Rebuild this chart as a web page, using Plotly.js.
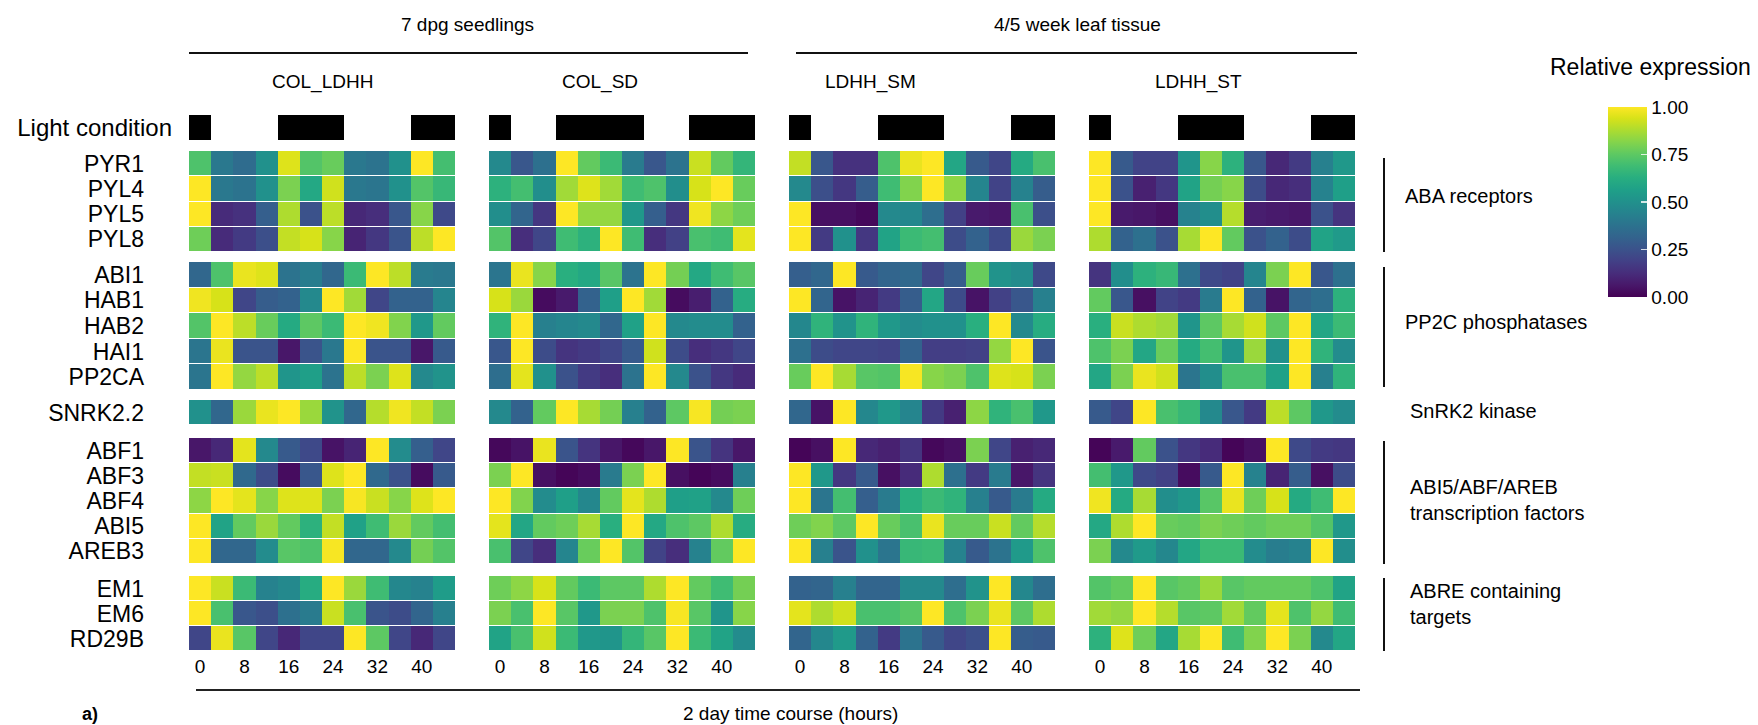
<!DOCTYPE html>
<html><head><meta charset="utf-8">
<script src="https://cdn.plot.ly/plotly-3.0.1.min.js"></script>
<style>html,body{margin:0;padding:0;background:#fff}</style>
</head><body><div id="chart" style="width:1758px;height:725px"></div>
<script>
const hours = [0,4,8,12,16,20,24,28,32,36,40,44];
const hourTicks = [0,8,16,24,32,40];
const panelNames = ['COL_LDHH','COL_SD','LDHH_SM','LDHH_ST'];
const groupGenes = [
  ['PYR1','PYL4','PYL5','PYL8'],
  ['ABI1','HAB1','HAB2','HAI1','PP2CA'],
  ['SNRK2.2'],
  ['ABF1','ABF3','ABF4','ABI5','AREB3'],
  ['EM1','EM6','RD29B']
];
const groupLabels = ['ABA receptors','PP2C phosphatases','SnRK2 kinase','ABI5/ABF/AREB<br>transcription factors','ABRE containing<br>targets'];
// 1 = dark, 0 = light
const light_COL_LDHH = [1,0,0,0,1,1,1,0,0,0,1,1];
const light_COL_SD   = [1,0,0,1,1,1,1,0,0,1,1,1];
const light_LDHH_SM  = [1,0,0,0,1,1,1,0,0,0,1,1];
const light_LDHH_ST  = [1,0,0,0,1,1,1,0,0,0,1,1];

// rows in gene order (18 genes), columns = hours
const COL_LDHH = [
 [0.72,0.40,0.35,0.50,0.95,0.73,0.77,0.40,0.38,0.50,1.00,0.70],
 [1.00,0.40,0.38,0.50,0.80,0.60,0.93,0.40,0.39,0.50,0.73,0.67],
 [1.00,0.12,0.14,0.30,0.88,0.25,0.90,0.11,0.13,0.27,0.82,0.22],
 [0.78,0.12,0.17,0.24,0.91,0.94,0.82,0.10,0.16,0.26,0.90,1.00],
 [0.33,0.72,0.97,0.95,0.38,0.42,0.33,0.68,1.00,0.90,0.41,0.40],
 [0.98,0.94,0.21,0.29,0.31,0.47,1.00,0.86,0.21,0.31,0.31,0.45],
 [0.73,1.00,0.90,0.77,0.61,0.75,0.68,1.00,0.98,0.81,0.53,0.76],
 [0.39,0.97,0.26,0.26,0.06,0.26,0.40,1.00,0.26,0.26,0.06,0.28],
 [0.39,1.00,0.84,0.90,0.52,0.56,0.38,0.90,0.80,0.95,0.47,0.51],
 [0.50,0.33,0.85,0.97,1.00,0.85,0.51,0.33,0.89,0.98,0.91,0.80],
 [0.06,0.11,0.96,0.47,0.28,0.22,0.05,0.10,1.00,0.48,0.30,0.21],
 [0.91,0.92,0.34,0.23,0.03,0.27,0.95,1.00,0.34,0.25,0.03,0.28],
 [0.83,1.00,0.96,0.82,0.95,0.95,0.80,0.99,0.92,0.82,0.95,1.00],
 [1.00,0.58,0.76,0.85,0.76,0.64,0.91,0.57,0.69,0.85,0.76,0.70],
 [1.00,0.33,0.33,0.48,0.74,0.72,0.99,0.33,0.33,0.47,0.79,0.73],
 [1.00,0.92,0.68,0.44,0.47,0.62,1.00,0.85,0.69,0.46,0.44,0.55],
 [1.00,0.71,0.27,0.24,0.37,0.41,0.92,0.71,0.26,0.23,0.32,0.43],
 [0.21,0.97,0.74,0.21,0.11,0.21,0.21,1.00,0.75,0.21,0.11,0.21]
];
const COL_SD = [
 [0.47,0.27,0.37,1.00,0.76,0.68,0.41,0.27,0.38,0.92,0.76,0.66],
 [0.64,0.70,0.49,0.86,0.95,0.86,0.69,0.72,0.49,0.94,1.00,0.77],
 [0.49,0.32,0.16,1.00,0.84,0.84,0.53,0.30,0.16,0.98,0.83,0.78],
 [0.73,0.13,0.21,0.69,0.64,1.00,0.69,0.13,0.19,0.71,0.69,0.96],
 [0.39,0.97,0.82,0.63,0.60,0.74,0.38,1.00,0.79,0.60,0.69,0.74],
 [0.94,0.85,0.03,0.07,0.31,0.56,1.00,0.86,0.03,0.08,0.31,0.62],
 [0.65,1.00,0.43,0.45,0.47,0.33,0.57,1.00,0.47,0.48,0.48,0.31],
 [0.27,1.00,0.23,0.15,0.17,0.21,0.28,0.93,0.23,0.13,0.16,0.21],
 [0.36,0.96,0.50,0.25,0.17,0.13,0.38,1.00,0.47,0.25,0.16,0.12],
 [0.47,0.31,0.76,1.00,0.87,0.79,0.43,0.31,0.75,0.99,0.79,0.80],
 [0.02,0.05,0.97,0.26,0.15,0.06,0.02,0.06,1.00,0.26,0.15,0.06],
 [0.80,1.00,0.04,0.01,0.03,0.41,0.80,1.00,0.04,0.01,0.03,0.43],
 [1.00,0.81,0.48,0.56,0.46,0.76,0.96,0.88,0.56,0.57,0.47,0.78],
 [0.96,0.59,0.76,0.78,0.87,0.63,1.00,0.60,0.72,0.75,0.88,0.62],
 [0.71,0.21,0.13,0.45,0.77,1.00,0.73,0.20,0.13,0.44,0.76,1.00],
 [0.78,0.83,0.94,0.76,0.68,0.75,0.75,0.88,1.00,0.76,0.69,0.79],
 [0.80,0.71,1.00,0.74,0.53,0.80,0.80,0.72,0.99,0.74,0.52,0.82],
 [0.58,0.71,0.93,0.68,0.53,0.52,0.66,0.74,1.00,0.68,0.58,0.48]
];
const LDHH_SM = [
 [0.91,0.27,0.14,0.14,0.72,0.97,1.00,0.59,0.28,0.21,0.61,0.71],
 [0.47,0.24,0.16,0.29,0.69,0.81,1.00,0.83,0.45,0.20,0.44,0.29],
 [1.00,0.04,0.04,0.02,0.47,0.46,0.36,0.19,0.07,0.06,0.71,0.24],
 [1.00,0.17,0.50,0.16,0.58,0.68,0.70,0.23,0.31,0.22,0.85,0.80],
 [0.30,0.33,1.00,0.28,0.32,0.34,0.21,0.29,0.77,0.51,0.48,0.22],
 [1.00,0.32,0.05,0.10,0.17,0.29,0.59,0.23,0.05,0.19,0.27,0.43],
 [0.46,0.65,0.51,0.65,0.53,0.48,0.50,0.50,0.63,1.00,0.47,0.62],
 [0.37,0.23,0.21,0.21,0.20,0.31,0.18,0.18,0.19,0.84,1.00,0.26],
 [0.77,1.00,0.87,0.74,0.73,0.99,0.82,0.80,0.72,0.95,0.94,0.80],
 [0.33,0.05,1.00,0.46,0.53,0.45,0.17,0.09,0.83,0.65,0.71,0.53],
 [0.01,0.04,1.00,0.11,0.09,0.15,0.02,0.04,0.80,0.21,0.09,0.11],
 [1.00,0.53,0.16,0.28,0.04,0.12,0.88,0.37,0.17,0.41,0.06,0.15],
 [1.00,0.39,0.70,0.30,0.41,0.63,0.68,0.65,0.43,0.28,0.41,0.61],
 [0.78,0.81,0.75,1.00,0.77,0.71,0.97,0.77,0.77,0.92,0.76,0.89],
 [1.00,0.43,0.26,0.50,0.39,0.67,0.68,0.44,0.28,0.38,0.54,0.72],
 [0.31,0.32,0.43,0.32,0.32,0.47,0.47,0.36,0.51,1.00,0.46,0.36],
 [0.96,0.88,0.93,0.71,0.71,0.74,1.00,0.72,0.80,0.97,0.75,0.88],
 [0.32,0.46,0.54,0.31,0.17,0.38,0.28,0.21,0.24,1.00,0.29,0.28]
];
const LDHH_ST = [
 [1.00,0.28,0.20,0.20,0.52,0.82,0.64,0.27,0.11,0.17,0.43,0.53],
 [1.00,0.25,0.09,0.16,0.58,0.79,0.82,0.23,0.11,0.13,0.44,0.56],
 [1.00,0.07,0.06,0.04,0.44,0.49,0.89,0.08,0.07,0.06,0.25,0.15],
 [0.88,0.31,0.37,0.25,0.87,1.00,0.76,0.25,0.31,0.23,0.58,0.54],
 [0.15,0.49,0.64,0.67,0.37,0.22,0.20,0.45,0.80,1.00,0.27,0.37],
 [0.76,0.27,0.04,0.20,0.17,0.41,1.00,0.31,0.05,0.32,0.36,0.64],
 [0.63,0.92,0.88,0.86,0.52,0.75,0.87,0.93,0.75,1.00,0.59,0.68],
 [0.72,0.80,0.59,0.77,0.61,0.70,0.52,0.85,0.50,1.00,0.65,0.48],
 [0.59,0.80,0.97,0.93,0.39,0.49,0.71,0.71,0.57,1.00,0.43,0.65],
 [0.28,0.21,1.00,0.71,0.67,0.47,0.27,0.17,0.90,0.75,0.53,0.48],
 [0.01,0.07,0.76,0.25,0.16,0.12,0.01,0.04,1.00,0.22,0.17,0.16],
 [0.70,0.53,0.22,0.19,0.03,0.28,1.00,0.44,0.10,0.29,0.04,0.23],
 [0.98,0.61,0.87,0.49,0.53,0.74,0.97,0.78,0.94,0.61,0.69,1.00],
 [0.60,0.88,1.00,0.77,0.76,0.80,0.78,0.76,0.78,0.78,0.73,0.53],
 [0.80,0.47,0.54,0.46,0.59,0.68,0.68,0.48,0.42,0.44,1.00,0.49],
 [0.73,0.76,1.00,0.74,0.76,0.85,0.74,0.76,0.76,0.76,0.72,0.58],
 [0.86,0.84,1.00,0.89,0.74,0.75,0.86,0.76,0.96,0.72,0.84,0.69],
 [0.64,0.95,0.78,0.59,0.87,1.00,0.69,0.81,1.00,0.80,0.47,0.59]
];

const panelData = [COL_LDHH, COL_SD, LDHH_SM, LDHH_ST];
const panelLight = [light_COL_LDHH, light_COL_SD, light_LDHH_SM, light_LDHH_ST];

// ---- layout geometry (pixels) ----
const W = 1758, H = 725;
const X = p => p / W;
const Y = p => 1 - p / H;
const panelPx = [[189,455],[489,755],[789,1055],[1089,1355]];
const groupPx = [[151,252],[262,390],[400,425],[438,564],[576,651]];
const lightPx = [115,140];
const FONT = 'Liberation Sans, Arial, Helvetica, sans-serif';

const traces = [];
const layout = {
  width: W, height: H,
  margin: {l:0, r:0, t:0, b:0},
  paper_bgcolor: 'white', plot_bgcolor: 'white',
  font: {family: FONT, color: '#000'},
  showlegend: false,
  annotations: [], shapes: []
};

// x axes
panelPx.forEach((px, i) => {
  const key = i === 0 ? 'xaxis' : 'xaxis' + (i + 1);
  layout[key] = {
    domain: [X(px[0]), X(px[1])], anchor: 'y6',
    range: [-2, 46], tickmode: 'array', tickvals: hourTicks, ticktext: hourTicks.map(String),
    ticks: '', showgrid: false, zeroline: false, showline: false,
    tickfont: {size: 19, color: '#000'}, ticklabelstandoff: 2
  };
});
// light y axis
layout.yaxis = {
  domain: [Y(lightPx[1]), Y(lightPx[0])], anchor: 'x', type: 'category',
  ticks: '', showgrid: false, zeroline: false, showline: false,
  tickfont: {size: 24, color: '#000'}, ticklabelstandoff: 16
};
groupPx.forEach((gp, g) => {
  layout['yaxis' + (g + 2)] = {
    domain: [Y(gp[1]), Y(gp[0])], anchor: 'x', type: 'category',
    autorange: 'reversed',
    tickmode: 'array', tickvals: groupGenes[g], ticktext: groupGenes[g],
    ticks: '', showgrid: false, zeroline: false, showline: false,
    tickfont: {size: 23, color: '#000'}, ticklabelstandoff: 44
  };
});

// traces
panelData.forEach((data, p) => {
  const xa = p === 0 ? 'x' : 'x' + (p + 1);
  traces.push({
    type: 'heatmap', x: hours, y: ['Light condition'], z: [panelLight[p]],
    xaxis: xa, yaxis: 'y', zmin: 0, zmax: 1,
    colorscale: [[0, '#ffffff'], [1, '#000000']], showscale: false,
    hoverinfo: 'skip'
  });
  let row = 0;
  groupGenes.forEach((genes, g) => {
    const z = data.slice(row, row + genes.length);
    row += genes.length;
    const tr = {
      type: 'heatmap', x: hours, y: genes, z: z,
      xaxis: xa, yaxis: 'y' + (g + 2), zmin: 0, zmax: 1,
      colorscale: 'Viridis', ygap: 1, showscale: false
    };
    if (p === 3 && g === 0) {
      tr.showscale = true;
      tr.colorbar = {
        x: X(1608), xanchor: 'left', xpad: 0, ypad: 0,
        y: Y(202), yanchor: 'middle',
        lenmode: 'pixels', len: 190, thickness: 39, outlinewidth: 0,
        tickvals: [0, 0.25, 0.5, 0.75, 1],
        ticktext: ['0.00', '0.25', '0.50', '0.75', '1.00'],
        ticks: 'inside', ticklen: 6, tickcolor: 'rgba(255,255,255,0.8)', tickwidth: 1.5,
        tickfont: {size: 19, color: '#000'}
      };
    }
    traces.push(tr);
  });
});

const ann = (text, x, y, size, opts = {}) => Object.assign({
  text, x: X(x), y: Y(y), xref: 'paper', yref: 'paper', showarrow: false,
  xanchor: 'center', yanchor: 'middle', font: {size, color: '#000', family: FONT}
}, opts);
const line = (x0, y0, x1, y1, w, c) => ({
  type: 'line', xref: 'paper', yref: 'paper',
  x0: X(x0), y0: Y(y0), x1: X(x1), y1: Y(y1), line: {color: c || '#111', width: w || 2}
});

// headers
layout.annotations.push(ann('7 dpg seedlings', 467, 25, 19));
layout.annotations.push(ann('4/5 week leaf tissue', 1077, 25, 19));
layout.shapes.push(line(189, 53, 748, 53, 2));
layout.shapes.push(line(796, 53, 1357, 53, 2));
const titleX = [322, 600, 870, 1198];
panelNames.forEach((n, i) => layout.annotations.push(ann(n, titleX[i], 82, 19)));

// bottom axis title
layout.shapes.push(line(196, 690, 1360, 690, 2, '#222'));
layout.annotations.push(ann('2 day time course (hours)', 790, 713, 19));
layout.annotations.push(ann('<b>a)</b>', 90, 714, 18));

// right-side group labels
const groupLine = [[158,252],[267,387],null,[441,564],[578,651]];
const groupLabelY = [196, 322, 411, 500, 604];
const groupLabelX = [1403, 1403, 1408, 1408, 1408];
groupLabels.forEach((t, g) => {
  if (groupLine[g]) layout.shapes.push(line(1384, groupLine[g][0], 1384, groupLine[g][1], 2));
  layout.annotations.push(ann(t, groupLabelX[g], groupLabelY[g], 20, {xanchor: 'left', align: 'left'}));
});

// colorbar title
layout.annotations.push(ann('Relative expression', 1650, 67, 23));

Plotly.newPlot('chart', traces, layout, {displayModeBar: false, staticPlot: true});
</script>
</body></html>
